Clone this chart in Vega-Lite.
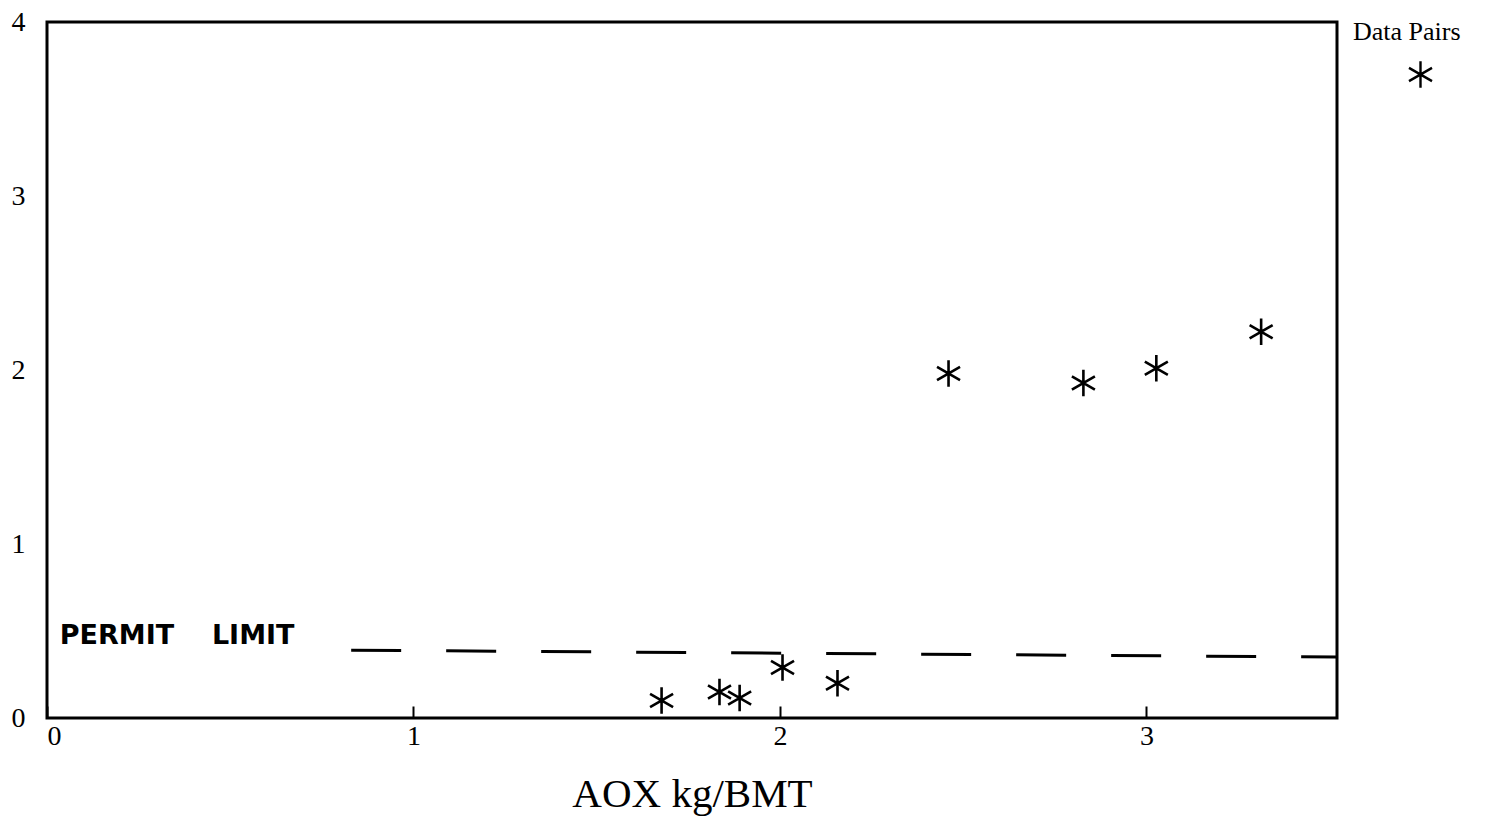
{
  "$schema": "https://vega.github.io/schema/vega-lite/v6.json",
  "width": 1290,
  "height": 696,
  "autosize": {"type": "none"},
  "padding": {"left": 47, "top": 22, "right": 148, "bottom": 115},
  "background": "white",
  "config": {
    "view": {"stroke": "black", "strokeWidth": 3},
    "font": "Liberation Serif",
    "axis": {
      "labelFont": "Liberation Serif",
      "titleFont": "Liberation Serif",
      "labelFontSize": 28,
      "labelColor": "black",
      "titleColor": "black",
      "titleFontWeight": "normal",
      "grid": false,
      "domain": false
    },
    "axisX": {"labelPadding": 16, "tickColor": "black", "tickWidth": 2, "tickSize": -12, "titleFontSize": 41, "titlePadding": 24},
    "axisY": {"labelPadding": 22, "ticks": false}
  },
  "datasets": {
    "pairs": [
      {"aox": 1.677, "value": 0.10},
      {"aox": 1.835, "value": 0.15},
      {"aox": 1.89, "value": 0.115},
      {"aox": 2.007, "value": 0.29},
      {"aox": 2.157, "value": 0.20},
      {"aox": 2.46, "value": 1.98},
      {"aox": 2.828, "value": 1.925},
      {"aox": 3.027, "value": 2.01},
      {"aox": 3.313, "value": 2.22}
    ],
    "limit": [
      {"aox": 0.83, "value": 0.39},
      {"aox": 3.52, "value": 0.35}
    ],
    "limitLabel": [
      {"aox": 0.035, "value": 0.47, "word": "PERMIT"},
      {"aox": 0.45, "value": 0.47, "word": "LIMIT"}
    ]
  },
  "layer": [
    {
      "data": {"name": "limit"},
      "mark": {"type": "line", "stroke": "black", "strokeWidth": 3, "strokeDash": [50, 45]},
      "encoding": {
        "x": {
          "field": "aox",
          "type": "quantitative",
          "title": "AOX kg/BMT",
          "scale": {"domain": [0, 3.52], "nice": false, "zero": true},
          "axis": {"values": [0, 1, 2, 3], "format": "d"}
        },
        "y": {
          "field": "value",
          "type": "quantitative",
          "title": null,
          "scale": {"domain": [0, 4], "nice": false},
          "axis": {"values": [0, 1, 2, 3, 4], "format": "d"}
        }
      }
    },
    {
      "data": {"name": "limitLabel"},
      "mark": {"type": "text", "align": "left", "baseline": "middle", "font": "DejaVu Sans", "fontSize": 27, "fontWeight": "bold", "fill": "black"},
      "encoding": {
        "x": {"field": "aox", "type": "quantitative"},
        "y": {"field": "value", "type": "quantitative"},
        "text": {"field": "word"}
      }
    },
    {
      "data": {"name": "pairs"},
      "mark": {"type": "point", "filled": false, "stroke": "black", "strokeWidth": 2.6, "size": 700, "opacity": 1},
      "encoding": {
        "x": {"field": "aox", "type": "quantitative"},
        "y": {"field": "value", "type": "quantitative"},
        "shape": {
          "datum": "Data Pairs",
          "scale": {"range": ["M0,-1L0,1M-0.87,-0.5L0.87,0.5M-0.87,0.5L0.87,-0.5"]},
          "legend": {
            "orient": "none",
            "legendX": 1306,
            "legendY": -3,
            "title": "Data Pairs",
            "titleFont": "Liberation Serif",
            "titleFontSize": 26,
            "titleFontWeight": "normal",
            "titleColor": "black",
            "titlePadding": 15,
            "labelExpr": "''",
            "symbolSize": 700,
            "symbolStrokeWidth": 2.4,
            "symbolStrokeColor": "black",
            "symbolFillColor": "transparent",
            "symbolOffset": 53
          }
        }
      }
    }
  ]
}
